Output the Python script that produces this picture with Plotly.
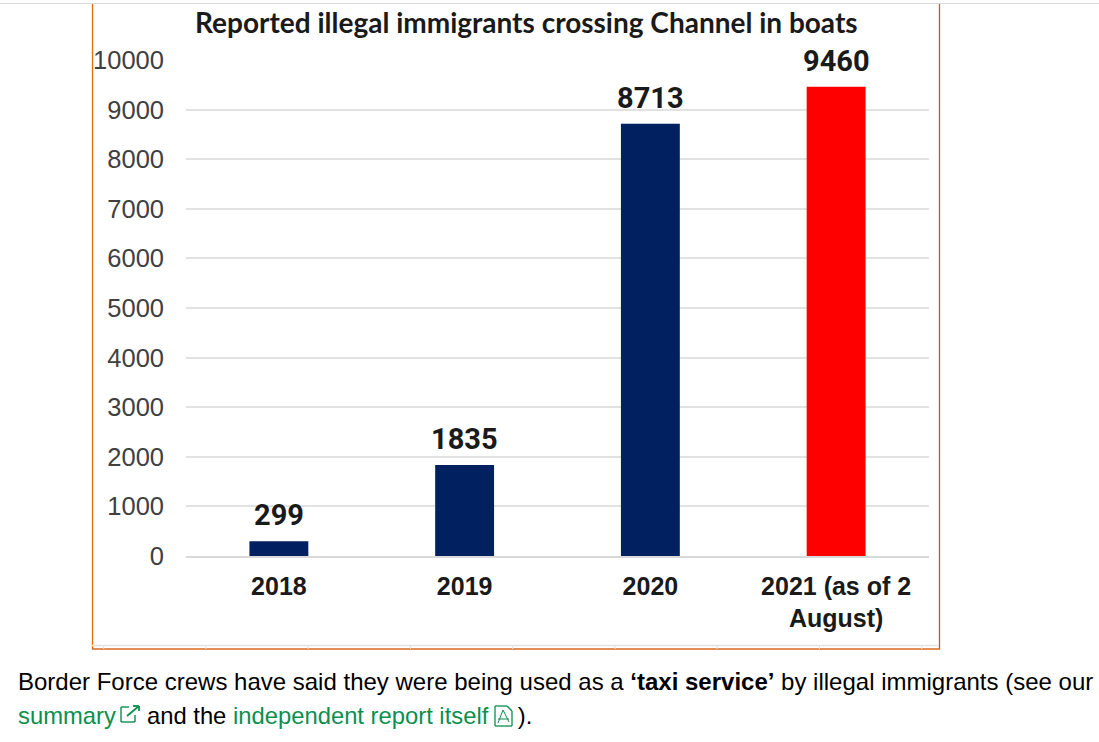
import plotly.graph_objects as go

categories = ["2018", "2019", "2020", "2021 (as of 2<br>August)"]
values = [299, 1835, 8713, 9460]
bar_colors = ["#002060", "#002060", "#002060", "#FF0000"]
y_ticks = [0, 1000, 2000, 3000, 4000, 5000, 6000, 7000, 8000, 9000, 10000]
title_text = "Reported illegal immigrants crossing Channel in boats"
green = "#0B8F4D"
line1 = "Border Force crews have said they were being used as a <b>‘taxi service’</b> by illegal immigrants (see our"
line2 = (f'<span style="color:{green}">summary</span>'
         '<span style="font-size:22.4px">     </span>and the '
         f'<span style="color:{green}">independent report itself</span>'
         '<span style="font-size:26.5px">    </span>).')
strip_ticks = [103.7 + 102.25 * i for i in range(9)]

W, H = 1099, 742
L, R, T, B = 186, 929, 60, 556


def px(x):
    return (x - L) / (R - L)


def py(y):
    return (B - y) / (B - T)


fig = go.Figure(go.Bar(
    x=categories, y=values, marker=dict(color=bar_colors, line_width=0),
    width=0.317, hoverinfo="x+y",
))

for i, v in enumerate(values):
    fig.add_annotation(x=i, y=v, text=str(v), showarrow=False, yanchor="middle", yshift=26,
                       font=dict(family="Roboto, Liberation Sans", size=29, color="#1a1a1a", weight=700))

fig.add_annotation(xref="paper", yref="paper", x=px(526), y=py(22), text=f"<b>{title_text}</b>",
                   showarrow=False, xanchor="center", yanchor="middle",
                   font=dict(family="Lato, Open Sans", size=28, color="#1a1a1a"))
fig.add_annotation(xref="paper", yref="paper", x=px(16), y=py(681.5), text=line1, showarrow=False,
                   xanchor="left", yanchor="middle", align="left",
                   font=dict(family="Liberation Sans", size=24, color="#000000"))
fig.add_annotation(xref="paper", yref="paper", x=px(16), y=py(714.5), text=line2, showarrow=False,
                   xanchor="left", yanchor="middle", align="left",
                   font=dict(family="Liberation Sans", size=23.8, color="#000000"))


def seg(x0, y0, x1, y1, color, w=1.0):
    fig.add_shape(type="line", xref="paper", yref="paper", x0=px(x0), y0=py(y0), x1=px(x1), y1=py(y1),
                  line=dict(color=color, width=w), layer="above")


seg(0, 3.5, W, 3.5, "#D8D8DE", 1)
seg(92.5, 4, 92.5, 649, "#E46C0A", 1.3)
seg(939.5, 4, 939.5, 649, "#C55A11", 1.3)
seg(92, 649, 940, 649, "#D9691E", 1.5)
seg(92, 645.5, 939, 645.5, "#E3E3E3", 1.5)
for t in strip_ticks:
    seg(t, 645, t, 649, "#E3E3E3", 1)

# external-link icon after "summary"
seg(121, 707, 121, 722, green, 1.4)
seg(121, 722, 135, 722, green, 1.4)
seg(135, 722, 135, 715, green, 1.4)
seg(121, 707, 129, 707, green, 1.4)
seg(127, 716, 139, 706, green, 1.8)
seg(133, 706, 139, 706, green, 1.8)
seg(139, 706, 139, 711, green, 1.8)
# pdf icon after "itself"
seg(495, 706, 507, 706, green, 1.3)
seg(507, 706, 512, 711, green, 1.3)
seg(512, 711, 512, 726, green, 1.3)
seg(512, 726, 495, 726, green, 1.3)
seg(495, 726, 495, 706, green, 1.3)
seg(498, 723, 503, 710, green, 1)
seg(503, 710, 509, 722, green, 1)
seg(498, 719, 509, 719, green, 1)

fig.update_layout(
    width=W, height=H, autosize=False,
    margin=dict(l=L, r=W - R, t=T, b=H - B, pad=0),
    paper_bgcolor="white", plot_bgcolor="white", showlegend=False,
    xaxis=dict(type="category", categoryorder="array", categoryarray=categories,
               range=[-0.5, 3.5], showgrid=False, showline=True, linecolor="#D9D9D9", linewidth=1.5,
               ticks="", ticklabelstandoff=7,
               tickfont=dict(family="Liberation Sans", size=25, color="#1a1a1a", weight=700)),
    yaxis=dict(range=[0, 10000], tickvals=y_ticks, tickformat="d", showgrid=True, gridcolor="#E2E2E2", gridwidth=1.5,
               zeroline=False, showline=False, ticks="", ticklabelstandoff=21,
               tickfont=dict(family="Liberation Sans", size=25.5, color="#404040")),
)

fig.write_html("out.html", config={"displayModeBar": False},
               post_script="document.body.style.margin='0';document.body.style.overflow='hidden';")
